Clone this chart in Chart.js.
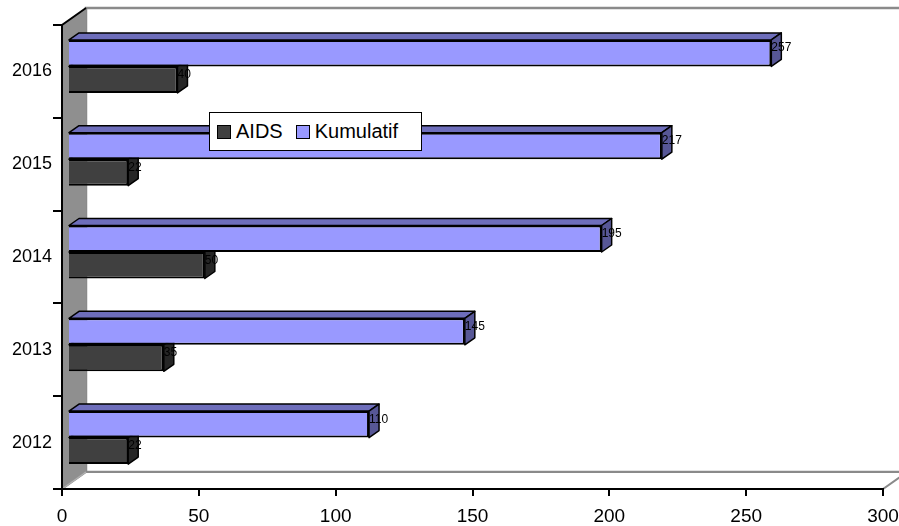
<!DOCTYPE html>
<html>
<head>
<meta charset="utf-8">
<script src="https://cdn.jsdelivr.net/npm/chart.js@4.4.1/dist/chart.umd.min.js"></script>
<style>
  html, body { margin: 0; padding: 0; background: #fff; overflow: hidden; }
  #wrap { position: relative; width: 899px; height: 526px; }
  #legend { position: absolute; left: 209px; top: 112px; width: 213px; height: 39px; box-sizing: border-box;
            border: 1.5px solid #000; background: #fff; display: flex; align-items: center; padding-left: 7px;
            font: 20px 'Liberation Sans', Arial, sans-serif; color: #000; white-space: nowrap; }
  .item { display: flex; align-items: center; margin-right: 13px; }
  .sw { width: 14px; height: 14px; box-sizing: border-box; border: 1.5px solid #000; margin-right: 5px; }
</style>
</head>
<body>
<div id="wrap">
  <canvas id="c" width="899" height="526"></canvas>
  <div id="legend"></div>
</div>
<script>
// ---- data ----
const years = ['2016', '2015', '2014', '2013', '2012'];
const aids = [40, 22, 50, 35, 22];
const kumulatif = [257, 217, 195, 145, 110];
const seriesNames = ['AIDS', 'Kumulatif'];
const xTickLabels = ['0', '50', '100', '150', '200', '250', '300'];

// ---- styles ----
const FRONT = { AIDS: '#404040', Kumulatif: '#9999FF' };
const TOP = { AIDS: '#333333', Kumulatif: '#6E6EBB' };
const SIDE = { AIDS: '#262626', Kumulatif: '#575796' };
const WALL_DX = 24, WALL_DY = 17;   // wall depth projection
const BAR_DX = 10, BAR_DY = 7;      // bar depth projection
const SHIFT_X = 6, SHIFT_Y = -5;    // bars sit mid-depth

// HTML legend built from series names
const legendEl = document.getElementById('legend');
seriesNames.forEach(n => {
  const it = document.createElement('div');
  it.className = 'item';
  const sw = document.createElement('span');
  sw.className = 'sw';
  sw.style.background = FRONT[n];
  const tx = document.createElement('span');
  tx.textContent = n;
  it.appendChild(sw); it.appendChild(tx);
  legendEl.appendChild(it);
});

const walls = {
  id: 'walls',
  beforeDraw(chart) {
    const { ctx, chartArea: a } = chart;
    const L = a.left, T = a.top, B = a.bottom, R = a.right;
    ctx.save();
    // back wall
    ctx.fillStyle = '#fff';
    ctx.strokeStyle = '#8a8a8a';
    ctx.lineWidth = 2.5;
    ctx.beginPath();
    ctx.rect(L + WALL_DX, T - WALL_DY, R - L, B - T);
    ctx.fill(); ctx.stroke();
    // floor
    ctx.lineWidth = 2;
    ctx.beginPath();
    ctx.moveTo(L, B); ctx.lineTo(L + WALL_DX, B - WALL_DY);
    ctx.lineTo(R + WALL_DX, B - WALL_DY); ctx.lineTo(R, B); ctx.closePath();
    ctx.fill(); ctx.stroke();
    // left wall
    ctx.fillStyle = '#8f8f8f';
    ctx.beginPath();
    ctx.moveTo(L, T); ctx.lineTo(L + WALL_DX, T - WALL_DY);
    ctx.lineTo(L + WALL_DX, B - WALL_DY); ctx.lineTo(L, B); ctx.closePath();
    ctx.fill();
    ctx.strokeStyle = '#000';
    ctx.lineWidth = 2;
    ctx.beginPath();
    ctx.moveTo(L, B); ctx.lineTo(L, T); ctx.lineTo(L + WALL_DX, T - WALL_DY);
    ctx.stroke();
    ctx.strokeStyle = '#b0b0b0';
    ctx.lineWidth = 1.5;
    ctx.beginPath();
    ctx.moveTo(L, B); ctx.lineTo(L + WALL_DX, B - WALL_DY);
    ctx.stroke();
    ctx.restore();
  },
  beforeDatasetsDraw(chart) {
    chart.ctx.save();
    chart.ctx.translate(SHIFT_X, SHIFT_Y);
  },
  afterDatasetDraw(chart, args) {
    const ctx = chart.ctx;
    const name = chart.data.datasets[args.index].label;
    ctx.save();
    ctx.lineWidth = 1.5;
    ctx.strokeStyle = '#000';
    ctx.lineJoin = 'round';
    args.meta.data.forEach(el => {
      const p = el.getProps(['x', 'y', 'base', 'height'], true);
      const top = p.y - p.height / 2, bot = p.y + p.height / 2;
      const x0 = p.base, x1 = p.x;
      // top face
      ctx.fillStyle = TOP[name];
      ctx.beginPath();
      ctx.moveTo(x0, top); ctx.lineTo(x0 + BAR_DX, top - BAR_DY);
      ctx.lineTo(x1 + BAR_DX, top - BAR_DY); ctx.lineTo(x1, top); ctx.closePath();
      ctx.fill(); ctx.stroke();
      // side face
      ctx.fillStyle = SIDE[name];
      ctx.beginPath();
      ctx.moveTo(x1, top); ctx.lineTo(x1 + BAR_DX, top - BAR_DY);
      ctx.lineTo(x1 + BAR_DX, bot - BAR_DY); ctx.lineTo(x1, bot); ctx.closePath();
      ctx.fill(); ctx.stroke();
    });
    ctx.restore();
  },
  afterDatasetsDraw(chart) {
    const ctx = chart.ctx;
    ctx.save();
    ctx.fillStyle = '#000';
    ctx.font = "12px 'Liberation Sans', Arial, sans-serif";
    ctx.textAlign = 'left';
    ctx.textBaseline = 'middle';
    chart.data.datasets.forEach((ds, i) => {
      chart.getDatasetMeta(i).data.forEach((el, j) => {
        const p = el.getProps(['x', 'y'], true);
        ctx.fillText(String(ds.data[j]), p.x, p.y - 5);
      });
    });
    ctx.restore();
    chart.ctx.restore();
  }
};

new Chart(document.getElementById('c'), {
  type: 'bar',
  data: {
    labels: years,
    datasets: [
      { label: 'Kumulatif', data: kumulatif, backgroundColor: FRONT.Kumulatif, borderColor: '#000', borderWidth: 2,
        categoryPercentage: 0.571, barPercentage: 1, clip: false },
      { label: 'AIDS', data: aids, backgroundColor: FRONT.AIDS, borderColor: '#000', borderWidth: 2,
        categoryPercentage: 0.571, barPercentage: 1, clip: false }
    ]
  },
  options: {
    indexAxis: 'y',
    responsive: false,
    devicePixelRatio: 1,
    animation: false,
    events: [],
    layout: { padding: { left: 0, right: 16, top: 25, bottom: 0 } },
    plugins: { legend: { display: false }, tooltip: { enabled: false } },
    scales: {
      x: {
        min: 0, max: 300,
        ticks: {
          stepSize: 50, color: '#000', padding: 9,
          font: { family: "'Liberation Sans', Arial, sans-serif", size: 19 },
          callback: (v) => xTickLabels[Math.round(v / 50)]
        },
        grid: { drawOnChartArea: false, tickLength: 7, color: '#000', lineWidth: 2 },
        border: { display: true, color: '#000', width: 2 },
        afterFit: (s) => { s.height = 37; s.paddingLeft = 0; s.paddingRight = 0; }
      },
      y: {
        ticks: { color: '#000', padding: 1, font: { family: "'Liberation Sans', Arial, sans-serif", size: 18 } },
        grid: { drawOnChartArea: false, tickLength: 9, color: '#000', lineWidth: 2, offset: true },
        border: { display: true, color: '#000', width: 2 },
        afterFit: (s) => { s.width = 62; s.paddingTop = 0; s.paddingBottom = 0; }
      }
    }
  },
  plugins: [walls]
});
</script>
</body>
</html>
